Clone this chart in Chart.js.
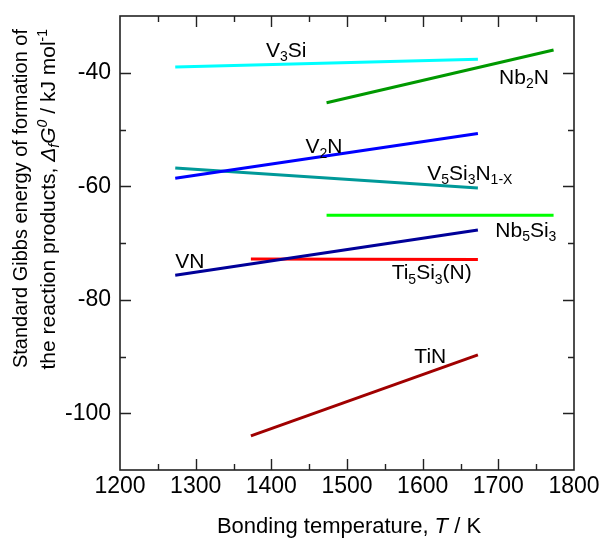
<!DOCTYPE html>
<html>
<head>
<meta charset="utf-8">
<script src="https://cdn.jsdelivr.net/npm/chart.js@4/dist/chart.umd.min.js"></script>
<style>
  html, body { margin: 0; padding: 0; background: #fff; }
  #wrap { width: 604px; height: 538px; }
</style>
</head>
<body>
<div id="wrap"><canvas id="c" width="604" height="538"></canvas></div>
<script>
// Reaction products and their Gibbs energy lines (T in K, ΔfG° in kJ/mol)
const phases = ['V3Si', 'Nb2N', 'V2N', 'V5Si3N1-X', 'Nb5Si3', 'VN', 'Ti5Si3(N)', 'TiN'];
const tStart = [1273, 1473, 1273, 1273, 1473, 1273, 1373, 1373];
const tEnd   = [1673, 1773, 1673, 1673, 1773, 1673, 1673, 1673];
const gStart = [-39.0, -45.3, -58.6, -56.8, -65.1, -75.7, -72.8, -104.0];
const gEnd   = [-37.6, -36.0, -50.7, -60.3, -65.1, -67.7, -72.9, -89.7];

// Labelled tick values
const xTickLabels = [1200, 1300, 1400, 1500, 1600, 1700, 1800];
const yTickLabels = [-100, -80, -60, -40];

// Styling
const lineColors = ['#00ffff', '#009900', '#0000ff', '#009999', '#00ff00', '#000099', '#ff0000', '#a00000'];
const FONT = '"Liberation Sans", Arial, Helvetica, sans-serif';

// Chemical formula pieces for each line label: [text, 'n' | 'sub']
const labelParts = {
  'V3Si': [['V', 'n'], ['3', 'sub'], ['Si', 'n']],
  'Nb2N': [['Nb', 'n'], ['2', 'sub'], ['N', 'n']],
  'V2N': [['V', 'n'], ['2', 'sub'], ['N', 'n']],
  'V5Si3N1-X': [['V', 'n'], ['5', 'sub'], ['Si', 'n'], ['3', 'sub'], ['N', 'n'], ['1-X', 'sub']],
  'Nb5Si3': [['Nb', 'n'], ['5', 'sub'], ['Si', 'n'], ['3', 'sub']],
  'VN': [['VN', 'n']],
  'Ti5Si3(N)': [['Ti', 'n'], ['5', 'sub'], ['Si', 'n'], ['3', 'sub'], ['(N)', 'n']],
  'TiN': [['TiN', 'n']]
};
// Where each label's text starts (left end of its baseline), in axis units
const labelAnchors = {
  'V3Si': [1393, -37.2],
  'Nb2N': [1701, -41.9],
  'V2N': [1445, -54.2],
  'V5Si3N1-X': [1606, -58.9],
  'Nb5Si3': [1696, -68.9],
  'VN': [1273, -74.4],
  'Ti5Si3(N)': [1559, -76.4],
  'TiN': [1589, -91.1]
};

const datasets = phases.map((name, i) => ({
  label: name,
  data: [{ x: tStart[i], y: gStart[i] }, { x: tEnd[i], y: gEnd[i] }],
  borderColor: lineColors[i],
  backgroundColor: lineColors[i],
  borderWidth: 3,
  pointRadius: 0,
  showLine: true,
  fill: false,
  tension: 0
}));

// Draws a run of text pieces with sub/superscripts and italics
function drawRich(ctx, parts, x, y, size, align) {
  const fontFor = (kind) => {
    const small = kind.indexOf('sub') >= 0 || kind.indexOf('sup') >= 0;
    const italic = kind.indexOf('i') === 0;
    return (italic ? 'italic ' : '') + Math.round(small ? size * 0.68 : size) + 'px ' + FONT;
  };
  const offsetFor = (kind) => {
    if (kind.indexOf('sub') >= 0) return size * 0.2;
    if (kind.indexOf('sup') >= 0) return -size * 0.36;
    return 0;
  };
  let total = 0;
  const widths = parts.map(([t, k]) => { ctx.font = fontFor(k); const w = ctx.measureText(t).width; total += w; return w; });
  let cx = align === 'center' ? x - total / 2 : align === 'right' ? x - total : x;
  ctx.textAlign = 'left';
  ctx.textBaseline = 'alphabetic';
  parts.forEach(([t, k], i) => {
    ctx.font = fontFor(k);
    ctx.fillText(t, cx, y + offsetFor(k));
    cx += widths[i];
  });
}

const framePlugin = {
  id: 'frameAndLabels',
  afterDraw(chart) {
    const ctx = chart.ctx;
    const { left, right, top, bottom } = chart.chartArea;
    const xs = chart.scales.x, ys = chart.scales.y;
    ctx.save();

    // Plot frame
    ctx.strokeStyle = '#222';
    ctx.lineWidth = 1.6;
    ctx.strokeRect(left, top, right - left, bottom - top);

    // Inward tick marks on all four sides
    ctx.lineWidth = 1.4;
    ctx.beginPath();
    xs.ticks.forEach(t => {
      if (t.value <= xs.min || t.value >= xs.max) return;
      const px = Math.round(xs.getPixelForValue(t.value)) + 0.5;
      const len = t.value % 100 === 0 ? 11 : 6;
      ctx.moveTo(px, bottom); ctx.lineTo(px, bottom - len);
      ctx.moveTo(px, top); ctx.lineTo(px, top + len);
    });
    ys.ticks.forEach(t => {
      if (t.value <= ys.min || t.value >= ys.max) return;
      const py = Math.round(ys.getPixelForValue(t.value)) + 0.5;
      const len = t.value % 20 === 0 ? 11 : 6;
      ctx.moveTo(left, py); ctx.lineTo(left + len, py);
      ctx.moveTo(right, py); ctx.lineTo(right - len, py);
    });
    ctx.stroke();

    // Line labels
    ctx.fillStyle = '#000';
    phases.forEach(name => {
      const [tx, gy] = labelAnchors[name];
      drawRich(ctx, labelParts[name], xs.getPixelForValue(tx), ys.getPixelForValue(gy), 21, 'left');
    });

    // X axis title
    drawRich(ctx, [['Bonding temperature, ', 'n'], ['T', 'i'], [' / K', 'n']],
      (left + right) / 2 + 2, 533, 22, 'center');

    // Y axis title (two lines, rotated)
    ctx.save();
    ctx.translate(27, 29);
    ctx.rotate(-Math.PI / 2);
    drawRich(ctx, [['Standard Gibbs energy of formation of', 'n']], 0, 0, 19.5, 'right');
    ctx.restore();
    ctx.save();
    ctx.translate(55, 29);
    ctx.rotate(-Math.PI / 2);
    drawRich(ctx, [['the reaction products, ', 'n'], ['\u0394', 'i'], ['f', 'isub'], ['G', 'i'], ['0', 'isup'],
      [' / kJ mol', 'n'], ['-1', 'sup']], 0, 0, 21, 'right');
    ctx.restore();

    ctx.restore();
  }
};

new Chart(document.getElementById('c'), {
  type: 'scatter',
  data: { datasets },
  options: {
    responsive: false,
    devicePixelRatio: 1,
    animation: false,
    layout: { padding: { left: 0, right: 30, top: 16, bottom: 0 } },
    plugins: { legend: { display: false }, tooltip: { enabled: false } },
    scales: {
      x: {
        type: 'linear',
        min: 1200, max: 1800,
        afterFit: s => { s.height = 68; s.paddingLeft = 0; s.paddingRight = 0; },
        grid: { display: false, drawTicks: false },
        border: { display: false },
        ticks: {
          stepSize: 50, autoSkip: false, maxRotation: 0, padding: 3,
          color: '#000', font: { family: FONT, size: 23 },
          callback: v => xTickLabels.includes(v) ? String(v) : ''
        }
      },
      y: {
        type: 'linear',
        min: -110, max: -30,
        afterFit: s => { s.width = 120; s.paddingTop = 0; s.paddingBottom = 0; },
        grid: { display: false, drawTicks: false },
        border: { display: false },
        ticks: {
          stepSize: 10, autoSkip: false, padding: 9,
          color: '#000', font: { family: FONT, size: 23 },
          callback: v => yTickLabels.includes(v) ? String(v) : ''
        }
      }
    }
  },
  plugins: [framePlugin]
});
</script>
</body>
</html>
